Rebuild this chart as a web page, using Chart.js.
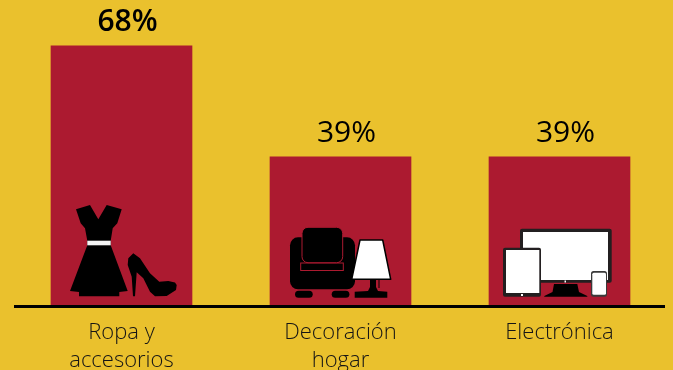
<!DOCTYPE html>
<html lang="es">
<head>
<meta charset="UTF-8" />
<title>Compras</title>
<script src="https://cdn.jsdelivr.net/npm/chart.js"></script>
<style>
  html, body { margin: 0; padding: 0; background: #eac12d; }
  #wrap { width: 673px; height: 370px; position: relative; overflow: hidden; }
</style>
</head>
<body>
<div id="wrap"><canvas id="chart" width="673" height="370"></canvas></div>
<script>
const categories = [['Ropa y', 'accesorios'], ['Decoración', 'hogar'], ['Electrónica']];
const values = [68, 39, 39];
const valueLabels = ['68%', '39%', '39%'];
const boldLabels = [true, false, false];

const RED = '#ac1a30';
const BLACK = '#000';
const DARK = '#231f20';
const FONT = '"Open Sans", "Noto Sans", sans-serif';

function rr(ctx, x, y, w, h, r) {
  ctx.beginPath();
  ctx.roundRect(x, y, w, h, r);
}

// fill a polygon given as [x, y] offsets from the bar's lower left corner
function poly(ctx, x, b, pts) {
  ctx.beginPath();
  pts.forEach((p, i) => {
    if (i === 0) ctx.moveTo(x + p[0], b + p[1]);
    else ctx.lineTo(x + p[0], b + p[1]);
  });
  ctx.closePath();
  ctx.fill();
}

function dress(ctx, x, b) {
  ctx.fillStyle = BLACK;
  poly(ctx, x, b, [
    [25, -96.7], [39, -101], [47.3, -86.7], [55.7, -101], [70.7, -96.7],
    [66.3, -82.7], [61.7, -77.7], [59.7, -65.3], [59.7, -60.7], [76.7, -15],
    [68.3, -14], [68.3, -9.7], [28, -9.7], [28, -14], [19, -15],
    [36.3, -60.7], [36.3, -65.3], [34, -77.7], [29.7, -82.7]
  ]);
  ctx.fillStyle = '#f4f4f4';
  ctx.fillRect(x + 36.3, b - 65.3, 23.4, 4.6);

  // high heel
  ctx.fillStyle = BLACK;
  poly(ctx, x, b, [
    [82.3, -52.7], [89, -47.7], [99, -32.7], [108.3, -24.3], [117.3, -25],
    [124, -23.5], [125.7, -21], [125, -16], [115.7, -10], [104, -9.7],
    [99, -14.3], [92.3, -27.7], [85.7, -33.7], [84, -9.7], [82, -9.7],
    [80.7, -29.3], [76.7, -41], [77.3, -47.7]
  ]);
}

function armchair(ctx, x, b) {
  ctx.fillStyle = BLACK;
  rr(ctx, x + 20, b - 68.7, 65, 52, 8);
  ctx.fill();
  ctx.strokeStyle = RED;
  ctx.lineWidth = 1;
  ctx.strokeRect(x + 30.7, b - 43, 42.6, 7.5);
  rr(ctx, x + 32, b - 78.7, 40.7, 35.4, 6);
  ctx.fill();
  ctx.stroke();
  rr(ctx, x + 25, b - 15.3, 17.7, 7, 3.5);
  ctx.fill();
  rr(ctx, x + 61.7, b - 15.3, 17.7, 7, 3.5);
  ctx.fill();

  // table lamp
  ctx.fillStyle = BLACK;
  poly(ctx, x, b, [
    [100, -27], [106, -27], [106, -19], [108, -15], [117.3, -14.3],
    [117.3, -8.3], [84.7, -8.3], [84.7, -14.3], [98, -15], [100, -19]
  ]);
  ctx.fillStyle = '#fff';
  ctx.strokeStyle = BLACK;
  ctx.lineWidth = 1.5;
  ctx.lineJoin = 'round';
  ctx.beginPath();
  ctx.moveTo(x + 90, b - 66);
  ctx.lineTo(x + 112.7, b - 66);
  ctx.lineTo(x + 120.7, b - 26.7);
  ctx.lineTo(x + 81.7, b - 26.7);
  ctx.closePath();
  ctx.fill();
  ctx.stroke();
  // pull cord
  ctx.lineWidth = 1;
  ctx.beginPath();
  ctx.moveTo(x + 109, b - 26);
  ctx.lineTo(x + 109, b - 18);
  ctx.stroke();
}

function devices(ctx, x, b) {
  // monitor
  ctx.fillStyle = DARK;
  rr(ctx, x + 31, b - 77.3, 91.7, 54, 2);
  ctx.fill();
  ctx.fillStyle = '#fff';
  ctx.fillRect(x + 34, b - 74, 85, 48);
  ctx.fillRect(x + 75.5, b - 25.5, 1.5, 2);
  ctx.fillStyle = BLACK;
  poly(ctx, x, b, [
    [65, -22], [88.3, -22], [90, -14], [98.3, -10], [98.3, -9.3], [55.3, -9.3], [55.3, -10], [63.5, -14]
  ]);

  // tablet
  ctx.fillStyle = DARK;
  rr(ctx, x + 14, b - 58.3, 38, 49, 2);
  ctx.fill();
  ctx.fillStyle = '#fff';
  ctx.fillRect(x + 17, b - 56, 33.3, 43);
  ctx.fillRect(x + 32, b - 12, 2, 2);

  // phone
  ctx.fillStyle = '#3a3a3a';
  rr(ctx, x + 102, b - 35, 16, 25.7, 2.5);
  ctx.fill();
  ctx.fillStyle = '#fff';
  rr(ctx, x + 103.3, b - 33.3, 13.7, 22, 1.5);
  ctx.fill();
}

const icons = [dress, armchair, devices];

const decorPlugin = {
  id: 'decor',
  afterDatasetsDraw(chart) {
    const ctx = chart.ctx;
    const meta = chart.getDatasetMeta(0);
    const base = chart.scales.y.getPixelForValue(0);
    ctx.save();
    meta.data.forEach((bar, i) => {
      icons[i](ctx, bar.x - bar.width / 2, base);
    });
    // baseline runs past the plot on both sides
    ctx.fillStyle = BLACK;
    ctx.fillRect(14, base - 1, 651, 3);
    // value labels sit a little right of the bar centres
    ctx.fillStyle = BLACK;
    ctx.textAlign = 'center';
    ctx.textBaseline = 'alphabetic';
    meta.data.forEach((bar, i) => {
      ctx.font = (boldLabels[i] ? '600 30px ' : '400 30px ') + FONT;
      ctx.fillText(valueLabels[i], bar.x + 6, bar.y - 14.5);
    });
    ctx.restore();
  }
};

new Chart(document.getElementById('chart'), {
  type: 'bar',
  data: {
    labels: categories,
    datasets: [{
      data: values,
      backgroundColor: RED,
      barThickness: 141
    }]
  },
  options: {
    responsive: false,
    animation: false,
    layout: { padding: { left: 12, right: 4, top: 0, bottom: 0 } },
    plugins: { legend: { display: false }, tooltip: { enabled: false } },
    scales: {
      x: {
        afterFit(scale) { scale.height = 64; },
        grid: { display: false },
        border: { display: false },
        ticks: {
          color: '#151515',
          font: { family: FONT, size: 22, weight: '300', lineHeight: 1.3 },
          maxRotation: 0,
          padding: 4
        }
      },
      y: {
        display: false,
        min: 0,
        max: 80
      }
    }
  },
  plugins: [decorPlugin]
});
</script>
</body>
</html>
